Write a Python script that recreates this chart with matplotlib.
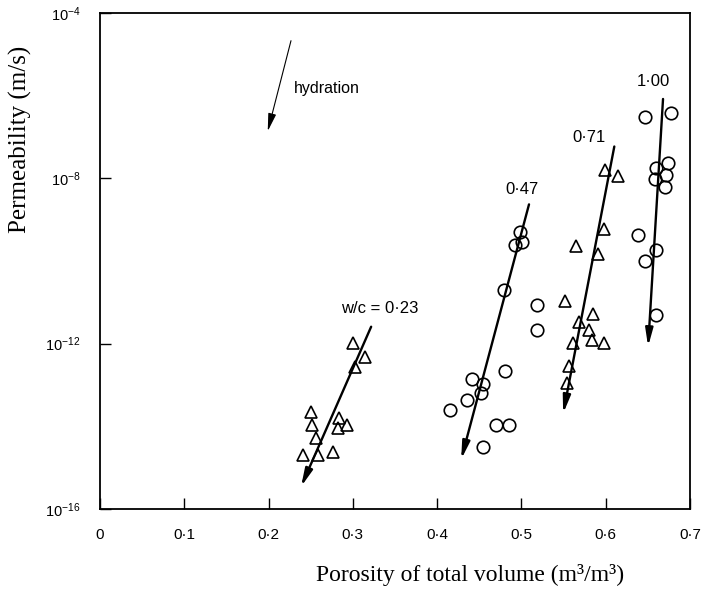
import numpy as np
import matplotlib
matplotlib.use("Agg")
import matplotlib.pyplot as plt

# ---- data; permeability given as log10 values ----
wc023_porosity = [0.300, 0.314, 0.303, 0.250, 0.252, 0.256, 0.241, 0.259, 0.276, 0.284, 0.293, 0.282]
wc023_log10k   = [-11.99, -12.32, -12.56, -13.65, -13.97, -14.29, -14.70, -14.70, -14.61, -13.80, -13.97, -14.04]

wc047_porosity = [0.498, 0.492, 0.501, 0.479, 0.518, 0.518, 0.481, 0.441, 0.454, 0.452, 0.435, 0.415, 0.470, 0.485, 0.454]
wc047_log10k   = [-9.29, -9.61, -9.53, -10.69, -11.07, -11.67, -12.66, -12.86, -12.98, -13.20, -13.36, -13.61, -13.97, -13.97, -14.49]

wc071_porosity = [0.599, 0.615, 0.598, 0.5645, 0.591, 0.5515, 0.5685, 0.585, 0.580, 0.561, 0.584, 0.598, 0.557, 0.554]
wc071_log10k   = [-7.80, -7.94, -9.23, -9.64, -9.83, -10.96, -11.47, -11.29, -11.67, -11.99, -11.91, -11.98, -12.54, -12.94]

wc100_porosity = [0.6465, 0.677, 0.674, 0.660, 0.672, 0.658, 0.670, 0.6386, 0.6596, 0.6465, 0.660]
wc100_log10k   = [-6.51, -6.43, -7.62, -7.76, -7.92, -8.02, -8.20, -9.37, -9.73, -9.99, -11.31]

# trend arrows: (start porosity, start log10k, tip porosity, tip log10k)
trend_labels = ["w/c = 0·23", "0·47", "0·71", "1·00"]
trend_start_x = [0.3217, 0.509, 0.6102, 0.668]
trend_start_y = [-11.59, -8.63, -7.23, -6.08]
trend_tip_x   = [0.2385, 0.4285, 0.5495, 0.6503]
trend_tip_y   = [-15.46, -14.80, -13.69, -12.07]
label_x = [0.332, 0.5005, 0.5807, 0.6567]
label_y = [-11.16, -8.26, -7.02, -5.66]

hydration_start = (0.2266, -4.67)
hydration_tip = (0.1990, -6.86)

x_ticks = [0, 0.1, 0.2, 0.3, 0.4, 0.5, 0.6, 0.7]
x_tick_labels = ["0", "0·1", "0·2", "0·3", "0·4", "0·5", "0·6", "0·7"]
y_tick_exps = [-16, -12, -8, -4]

# ---- figure ----
plt.rcParams['mathtext.fontset'] = 'custom'
plt.rcParams['mathtext.rm'] = 'Liberation Sans'
plt.rcParams['mathtext.it'] = 'Liberation Sans:italic'
plt.rcParams['font.family'] = ['Liberation Sans', 'DejaVu Sans']

fig = plt.figure(figsize=(7.04, 5.89), dpi=100)
ax = fig.add_axes([100/704, 1 - 509/589, 590/704, 496/589])
ax.set_yscale('log')
ax.set_xlim(0, 0.7)
ax.set_ylim(1e-16, 1e-4)

def k(vals):
    return [10.0 ** v for v in vals]

ms = 9
ax.plot(wc023_porosity, k(wc023_log10k), ls='none', marker='^', ms=ms, mfc='none', mec='k', mew=1.2)
ax.plot(wc047_porosity, k(wc047_log10k), ls='none', marker='o', ms=ms, mfc='none', mec='k', mew=1.2)
ax.plot(wc071_porosity, k(wc071_log10k), ls='none', marker='^', ms=ms, mfc='none', mec='k', mew=1.2)
ax.plot(wc100_porosity, k(wc100_log10k), ls='none', marker='o', ms=ms, mfc='none', mec='k', mew=1.2)

for sx, sy, tx, ty in zip(trend_start_x, trend_start_y, trend_tip_x, trend_tip_y):
    ax.annotate('', xy=(tx, 10.0 ** ty), xytext=(sx, 10.0 ** sy),
                arrowprops=dict(arrowstyle='-|>,head_width=0.16,head_length=0.75',
                                lw=1.7, color='k', mutation_scale=14,
                                shrinkA=0, shrinkB=0))

for lab, lx, ly in zip(trend_labels, label_x, label_y):
    ax.text(lx, 10.0 ** ly, lab, ha='center', va='center', fontsize=12)

ax.annotate('', xy=(hydration_tip[0], 10.0 ** hydration_tip[1]),
            xytext=(hydration_start[0], 10.0 ** hydration_start[1]),
            arrowprops=dict(arrowstyle='-|>,head_width=0.2,head_length=0.9',
                            lw=0.8, color='k', mutation_scale=12,
                            shrinkA=0, shrinkB=0))
ax.text(0.2305, 10.0 ** -5.83, "hydration", ha='left', va='center', fontsize=11.5)

ax.set_xticks(x_ticks)
ax.set_xticklabels(x_tick_labels, fontsize=11)
ax.set_yticks([10.0 ** e for e in y_tick_exps])
ax.set_yticklabels([r'$\mathregular{10^{%d}}$' % e for e in y_tick_exps], fontsize=10.5)
ax.minorticks_off()
ax.tick_params(axis='both', which='major', direction='in', length=8, width=1.0)
ax.tick_params(axis='x', pad=14)
ax.tick_params(axis='y', pad=14)
for s in ax.spines.values():
    s.set_linewidth(1.3)

ax.set_xlabel("Porosity of total volume (m³/m³)", family='Liberation Serif', fontsize=17)
ax.xaxis.set_label_coords(0.628, -0.11)
ax.set_ylabel("Permeability (m/s)", family='Liberation Serif', fontsize=18)
ax.yaxis.set_label_coords(-0.115, 0.745)

fig.savefig("out.png", dpi=100)
